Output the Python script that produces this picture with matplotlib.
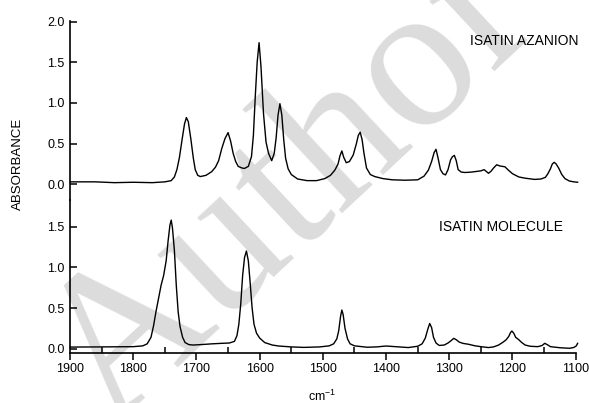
import matplotlib
matplotlib.use("Agg")
import matplotlib.pyplot as plt
from matplotlib.ticker import MultipleLocator

plt.rcParams['font.family'] = ['Liberation Sans', 'DejaVu Sans']
plt.rcParams['mathtext.fontset'] = 'custom'
plt.rcParams['mathtext.rm'] = 'Liberation Sans'

# ---- data (wavenumber cm-1, absorbance) ----
azanion_wn = [1900, 1860, 1830, 1800, 1770, 1750, 1740, 1735, 1731, 1727, 1723, 1719, 1716, 1713,
              1709, 1705, 1702, 1698, 1694, 1685, 1676, 1670, 1665, 1660, 1655, 1650, 1646, 1642,
              1638, 1634, 1628, 1624, 1618, 1613, 1610, 1607, 1604, 1601, 1598, 1594, 1590, 1586,
              1581, 1577, 1574, 1571, 1568, 1565, 1562, 1559, 1555, 1550, 1540, 1525, 1510, 1497,
              1488, 1481, 1476, 1473, 1470, 1467, 1463, 1458, 1452, 1447, 1444, 1441, 1438, 1435,
              1431, 1425, 1418, 1405, 1390, 1370, 1350, 1340, 1333, 1328, 1324, 1321, 1318, 1314,
              1310, 1306, 1302, 1298, 1295, 1292, 1289, 1286, 1281, 1275, 1265, 1255, 1250, 1245,
              1241, 1238, 1234, 1230, 1225, 1220, 1216, 1212, 1206, 1200, 1190, 1180, 1165, 1155,
              1148, 1144, 1140, 1137, 1134, 1131, 1127, 1122, 1117, 1110, 1103, 1097]
azanion_abs = [0.03, 0.03, 0.02, 0.025, 0.02, 0.03, 0.045, 0.09, 0.18, 0.33, 0.54, 0.74, 0.82, 0.77,
               0.56, 0.32, 0.18, 0.11, 0.095, 0.11, 0.155, 0.21, 0.29, 0.44, 0.56, 0.635, 0.53, 0.38,
               0.28, 0.22, 0.20, 0.195, 0.22, 0.34, 0.60, 1.08, 1.50, 1.74, 1.45, 0.87, 0.52, 0.38,
               0.29, 0.38, 0.57, 0.85, 0.99, 0.85, 0.55, 0.32, 0.19, 0.12, 0.065, 0.045, 0.045, 0.07,
               0.11, 0.175, 0.25, 0.35, 0.41, 0.33, 0.265, 0.28, 0.36, 0.50, 0.60, 0.64, 0.55, 0.38,
               0.20, 0.12, 0.095, 0.07, 0.055, 0.05, 0.055, 0.10, 0.175, 0.28, 0.39, 0.43, 0.33, 0.18,
               0.13, 0.115, 0.18, 0.30, 0.34, 0.355, 0.29, 0.18, 0.15, 0.145, 0.15, 0.16, 0.165, 0.18,
               0.155, 0.135, 0.16, 0.20, 0.24, 0.225, 0.22, 0.215, 0.17, 0.13, 0.09, 0.075, 0.06, 0.065,
               0.085, 0.13, 0.19, 0.25, 0.27, 0.25, 0.20, 0.12, 0.07, 0.04, 0.03, 0.025]

molecule_wn = [1900, 1850, 1800, 1785, 1778, 1772, 1768, 1764, 1760, 1756, 1752, 1748, 1745, 1742,
               1740, 1738, 1735, 1732, 1729, 1726, 1722, 1718, 1712, 1705, 1690, 1675, 1660, 1648,
               1640, 1636, 1633, 1630, 1627, 1624, 1621, 1618, 1615, 1612, 1609, 1605, 1600, 1592,
               1580, 1570, 1550, 1530, 1505, 1490, 1483, 1478, 1475, 1472, 1470, 1468, 1465, 1461,
               1457, 1450, 1430, 1415, 1400, 1385, 1365, 1350, 1343, 1338, 1334, 1331, 1328, 1325,
               1321, 1316, 1308, 1302, 1297, 1293, 1289, 1284, 1278, 1270, 1259, 1250, 1238, 1230,
               1222, 1215, 1210, 1206, 1203, 1201, 1198, 1195, 1190, 1186, 1180, 1172, 1160, 1153,
               1149, 1145, 1140, 1125, 1110, 1103, 1099, 1097]
molecule_abs = [0.02, 0.022, 0.025, 0.035, 0.06, 0.14, 0.28, 0.46, 0.62, 0.78, 0.90, 1.08, 1.32, 1.52,
                1.58, 1.48, 1.21, 0.78, 0.45, 0.27, 0.14, 0.075, 0.05, 0.045, 0.052, 0.06, 0.066, 0.07,
                0.09, 0.16, 0.30, 0.55, 0.90, 1.12, 1.20, 1.08, 0.80, 0.50, 0.30, 0.19, 0.13, 0.075,
                0.045, 0.033, 0.022, 0.016, 0.022, 0.035, 0.06, 0.12, 0.22, 0.40, 0.475, 0.42, 0.25, 0.12,
                0.06, 0.035, 0.018, 0.022, 0.033, 0.025, 0.014, 0.03, 0.06, 0.13, 0.24, 0.31, 0.26, 0.14,
                0.07, 0.04, 0.045, 0.07, 0.10, 0.127, 0.11, 0.08, 0.065, 0.055, 0.035, 0.025, 0.014, 0.022,
                0.045, 0.08, 0.11, 0.15, 0.20, 0.217, 0.19, 0.14, 0.11, 0.08, 0.045, 0.03, 0.025, 0.04,
                0.066, 0.05, 0.025, 0.012, 0.005, 0.015, 0.035, 0.066]

x_ticks = [1900, 1800, 1700, 1600, 1500, 1400, 1300, 1200, 1100]
top_yticks = [0.0, 0.5, 1.0, 1.5, 2.0]
bot_yticks = [0.0, 0.5, 1.0, 1.5]
label_top = "ISATIN AZANION"
label_bot = "ISATIN MOLECULE"

W, H = 589, 403
fig = plt.figure(figsize=(W / 100, H / 100), dpi=100)

# watermark
fig.text(292 / W, 1 - 190 / H, "Author", rotation=43, fontsize=150, color='#dcdcdc',
         family='Liberation Serif', ha='center', va='center', zorder=-5)

L, R = 70.1 / W, 575.7 / W
ax1 = fig.add_axes([L, 1 - 200 / H, R - L, (200 - 20.7) / H])
ax2 = fig.add_axes([L, 1 - 353.3 / H, R - L, (353.3 - 200) / H])

for ax in (ax1, ax2):
    ax.patch.set_visible(False)
    ax.set_xlim(1900, 1100)
    ax.spines['top'].set_visible(False)
    ax.spines['right'].set_visible(False)
    ax.spines['left'].set_linewidth(1.2)
    ax.spines['bottom'].set_linewidth(1.2)
    ax.tick_params(axis='y', direction='in', length=5, width=1.1, labelsize=9, pad=4)

ax1.plot(azanion_wn, azanion_abs, color='black', lw=1.0, clip_on=False)
ax2.plot(molecule_wn, molecule_abs, color='black', lw=1.0, clip_on=False)

ax1.set_ylim(-0.193, 2.01)
ax1.set_yticks(top_yticks)
ax1.set_yticklabels([f"{v:.1f}" for v in top_yticks])
ax1.spines['bottom'].set_visible(False)
ax1.tick_params(axis='x', which='both', bottom=False, labelbottom=False)

ax2.set_ylim(-0.0565, 1.827)
ax2.set_yticks(bot_yticks)
ax2.set_yticklabels([f"{v:.1f}" for v in bot_yticks])
ax2.set_xticks(x_ticks)
ax2.set_xticklabels([str(v) for v in x_ticks])
ax2.xaxis.set_minor_locator(MultipleLocator(50))
ax2.tick_params(axis='x', which='major', direction='out', length=5, width=1.1, labelsize=9, pad=2)
ax2.tick_params(axis='x', which='minor', direction='in', length=4, width=1.1)

fig.text(578 / W, 1 - 41 / H, label_top, ha='right', va='center', fontsize=10)
fig.text(563 / W, 1 - 227 / H, label_bot, ha='right', va='center', fontsize=10)
fig.text(17.5 / W, 1 - 163.5 / H, "ABSORBANCE", rotation=90, ha='center', va='center', fontsize=9.5)
fig.text(322 / W, 1 - 396 / H, r"cm$^{\mathregular{-1}}$", ha='center', va='center', fontsize=9)

fig.savefig("out.png", dpi=100)
